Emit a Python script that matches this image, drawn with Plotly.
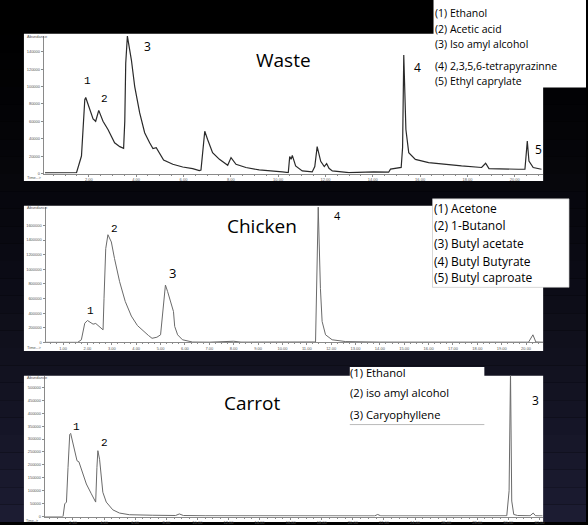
import plotly.graph_objects as go

W, H = 588, 525

# ---------------- data (time in min, abundance) ----------------
waste_time = [0.15, 1.0, 1.48, 1.69, 1.83, 1.87, 2.04, 2.18, 2.29, 2.42, 2.6, 2.81, 3.09, 3.31, 3.47,
              3.52, 3.56, 3.63, 3.8, 3.94, 4.15, 4.36, 4.57, 4.71, 4.85, 4.99, 5.16, 5.55, 5.97, 6.39,
              6.67, 6.74, 6.9, 7.02, 7.23, 7.52, 7.87, 8.01, 8.22, 8.64, 9.2, 10.18, 10.43, 10.49,
              10.55, 10.6, 10.74, 11.02, 11.44, 11.55, 11.65, 11.8, 11.95, 12.05, 12.15, 12.29, 12.99,
              14.04, 14.67, 14.75, 15.2, 15.26, 15.31, 15.4, 15.52, 15.8, 16.36, 17.75, 18.6, 18.77,
              18.91, 20.15, 20.43, 20.53, 20.6, 20.78, 21.13]
waste_abund = [800, 800, 1000, 20100, 84900, 87500, 73500, 62900, 60100, 72700, 60100, 50600, 35400, 30900, 28900,
               60000, 126900, 158100, 130600, 100100, 69700, 46900, 35400, 28600, 29700, 24000, 15500, 10600, 7500, 5700,
               3400, 4000, 48700, 39200, 24000, 16300, 9500, 18300, 10600, 6900, 4100, 1800, 1100, 19400,
               16300, 20900, 8700, 3000, 1800, 8000, 30900, 14000, 8000, 11500, 6000, 3000, 1100,
               1800, 1500, 5000, 7000, 30000, 136300, 50600, 24000, 16300, 12600, 8700, 6900, 11800,
               5700, 4900, 4900, 37300, 14400, 6900, 4900]

chicken_time = [0.3, 1.6, 1.75, 1.89, 2.0, 2.12, 2.23, 2.34, 2.5, 2.64, 2.68, 2.75, 2.84, 2.98, 3.11, 3.32,
                3.55, 3.8, 4.05, 4.3, 4.5, 4.65, 4.85, 5.0, 5.09, 5.2, 5.29, 5.43, 5.53, 5.58, 5.7, 5.9,
                6.31, 7.0, 7.5, 8.0, 8.3, 9.5, 11.3, 11.36, 11.47, 11.56, 11.63, 11.77, 12.04, 12.6, 14.0,
                18.5, 19.2, 20.1, 20.28, 20.4, 20.7]
chicken_abund = [0, 0, 35000, 262000, 299000, 276000, 249000, 258000, 218000, 171000, 603000, 1283000, 1473000,
                 1374000, 1147000, 830000, 560000, 360000, 230000, 150000, 95000, 55000, 70000, 103000, 422000,
                 784000, 694000, 512000, 422000, 218000, 103000, 35000, 4000, 2000, 8000, 15000, 3000, 2000,
                 3000, 5000, 1850000, 739000, 286000, 103000, 35000, 10000, 3000, 3000, 5000, 2000, 103000,
                 5000, 2000]

carrot_time = [0.2, 1.36, 1.47, 1.58, 1.68, 1.79, 1.85, 2.0, 2.17, 2.26, 2.38, 2.64, 2.86, 3.18, 3.39, 3.46,
               3.54, 3.6, 3.71, 3.82, 3.92, 4.14, 4.56, 4.99, 5.63, 7.13, 8.6, 8.84, 9.1, 10.5, 14.0, 18.0,
               21.4, 21.6, 21.8, 26.0, 29.9, 30.05, 30.14, 30.22, 30.35, 30.6, 31.4, 31.6, 31.75, 32.2]
carrot_abund = [0, 0, 49000, 56000, 190000, 318000, 322000, 286000, 235000, 216000, 212000, 165000, 126000,
                88000, 62000, 56000, 190000, 255000, 222000, 152000, 94000, 56000, 26000, 13500, 7000, 5000,
                4000, 10000, 4000, 3000, 2500, 3000, 2500, 8000, 2500, 2500, 3000, 100000, 560000, 60000,
                8000, 4000, 3000, 13500, 3000, 2500]

waste_legend = ["(1) Ethanol", "(2) Acetic acid", "(3) Iso amyl alcohol",
                "(4) 2,3,5,6-tetrapyrazinne", "(5) Ethyl caprylate"]
chicken_legend = ["(1) Acetone", "(2) 1-Butanol", "(3) Butyl acetate",
                  "(4) Butyl Butyrate", "(5) Butyl caproate"]
carrot_legend = ["(1) Ethanol", "(2) iso amyl alcohol", "(3) Caryophyllene"]

waste_yticks = [0, 20000, 40000, 60000, 80000, 100000, 120000, 140000]
chicken_yticks = [0, 200000, 400000, 600000, 800000, 1000000, 1200000, 1400000, 1600000]
carrot_yticks = [0, 50000, 100000, 150000, 200000, 250000, 300000, 350000, 400000, 450000, 500000]
waste_xticks = [2, 4, 6, 8, 10, 12, 14, 16, 18, 20]
chicken_xticks = list(range(1, 21))
carrot_xticks = [2, 4, 6, 8, 10, 12, 14, 16, 18, 20, 22, 24, 26, 28, 30, 32]


def px(x):
    return x / W


def py(y):
    return 1 - y / H


def tlabel(v):
    return f"{v}.00"


fig = go.Figure()
fig.add_trace(go.Scatter(x=waste_time, y=waste_abund, mode="lines", xaxis="x", yaxis="y",
                         line=dict(color="#2a2a2a", width=1.2), showlegend=False, hoverinfo="skip"))
fig.add_trace(go.Scatter(x=chicken_time, y=chicken_abund, mode="lines", xaxis="x2", yaxis="y2",
                         line=dict(color="#6a6a6a", width=1), showlegend=False, hoverinfo="skip"))
fig.add_trace(go.Scatter(x=carrot_time, y=carrot_abund, mode="lines", xaxis="x3", yaxis="y3",
                         line=dict(color="#6a6a6a", width=1), showlegend=False, hoverinfo="skip"))

ax_common = dict(showline=True, linecolor="#8a8a8a", linewidth=1, ticks="outside", ticklen=2,
                 tickcolor="#8a8a8a", tickwidth=1, tickfont=dict(size=4, color="#555", family="Liberation Sans"),
                 showgrid=False, zeroline=False, fixedrange=True)


def xax(domain, rng, ticks, anchor, minor):
    d = dict(ax_common)
    d.update(domain=domain, range=rng, tickvals=ticks, ticktext=[tlabel(t) for t in ticks], anchor=anchor,
             minor=dict(ticks="outside", ticklen=1, dtick=minor, tickcolor="#8a8a8a"))
    return d


def yax(domain, rng, ticks, anchor):
    d = dict(ax_common)
    d.update(domain=domain, range=rng, tickvals=ticks, ticktext=[str(t) for t in ticks], anchor=anchor)
    return d


layout = dict(
    width=W, height=H, margin=dict(l=0, r=0, t=0, b=0),
    paper_bgcolor="#000000", plot_bgcolor="rgba(0,0,0,0)",
    xaxis=xax([px(44), px(545)], [0.1, 21.2], waste_xticks, "y", 0.5),
    yaxis=yax([py(174.5), py(36)], [0, 158500], waste_yticks, "x"),
    xaxis2=xax([px(45.7), px(545)], [0.28, 20.7], chicken_xticks, "y2", 0.25),
    yaxis2=yax([py(344.3), py(208)], [0, 1855000], chicken_yticks, "x2"),
    xaxis3=xax([px(45), px(545)], [0.19, 32.24], carrot_xticks, "y3", 0.5),
    yaxis3=yax([py(519.5), py(378)], [0, 545000], carrot_yticks, "x3"),
)

shapes = []
# background gradient (black at top to dark navy at bottom)
n = 30
for i in range(n):
    f = i / (n - 1)
    r = int(0 + 28 * f ** 1.3)
    g = int(0 + 28 * f ** 1.3)
    b = int(0 + 50 * f ** 1.3)
    shapes.append(dict(type="rect", xref="paper", yref="paper", x0=0, x1=1,
                       y0=py(H * (i + 1) / n), y1=py(H * i / n),
                       fillcolor=f"rgb({r},{g},{b})", line=dict(width=0), layer="below"))
# white panels
for (x0, y0, x1, y1) in [(24, 34, 545, 182), (24, 207, 545, 353), (24, 378, 545, 525)]:
    shapes.append(dict(type="rect", xref="paper", yref="paper", x0=px(x0), x1=px(x1), y0=py(y1), y1=py(y0),
                       fillcolor="white", line=dict(width=0), layer="below"))
# legend boxes
shapes.append(dict(type="rect", xref="paper", yref="paper", x0=px(435), x1=px(588), y0=py(88), y1=py(0),
                   fillcolor="white", line=dict(width=0), layer="below"))
shapes.append(dict(type="rect", xref="paper", yref="paper", x0=px(434), x1=px(571), y0=py(289), y1=py(200),
                   fillcolor="white", line=dict(width=0.6, color="#bbbbbb"), layer="above"))
shapes.append(dict(type="rect", xref="paper", yref="paper", x0=px(351), x1=px(486), y0=py(427), y1=py(369),
                   fillcolor="white", line=dict(width=0), layer="above"))
shapes.append(dict(type="line", xref="paper", yref="paper", x0=px(351), x1=px(486), y0=py(427), y1=py(427),
                   line=dict(width=0.8, color="#aaaaaa"), layer="above"))
layout["shapes"] = shapes

ann = []


def text(x, y, s, size, family="Open Sans", xanchor="center", color="black"):
    ann.append(dict(x=px(x), y=py(y), xref="paper", yref="paper", text=s, showarrow=False,
                    font=dict(size=size, family=family, color=color), xanchor=xanchor, yanchor="middle"))


mono = "Liberation Mono"
# titles
text(284, 60, "Waste", 19)
text(263, 227, "Chicken", 19)
text(253, 405, "Carrot", 19)
# peak labels
text(88, 81, "1", 11, mono)
text(105, 100, "2", 11, mono)
text(148, 47, "3", 12)
text(419, 68, "4", 12)
text(540, 150, "5", 12)
text(91, 313, "1", 11, mono)
text(115, 230, "2", 11, mono)
text(173, 275, "3", 13)
text(339, 217, "4", 11)
text(77, 429, "1", 11, mono)
text(105, 446, "2", 11, mono)
text(537, 403, "3", 12)
# legends
for s, y in zip(waste_legend, [13, 29, 44, 66, 81]):
    text(434, y, s, 10.5, xanchor="left")
for s, y in zip(chicken_legend, [210, 227, 245, 263, 279]):
    text(433, y, s, 12, xanchor="left")
for s, y in zip(carrot_legend, [375, 395, 417]):
    text(349, y, s, 11.2, xanchor="left")
# axis captions
for yy in [37, 209, 380]:
    text(25, yy, "Abundance", 4, "Liberation Sans", xanchor="left", color="#555")
for yy in [179, 349]:
    text(25, yy, "Time-->", 4, "Liberation Sans", xanchor="left", color="#555")
text(24, 523.5, "Time-->", 3.5, "Liberation Sans", xanchor="left", color="#555")
layout["annotations"] = ann

fig.update_layout(**layout)
fig.write_html("out.html")
